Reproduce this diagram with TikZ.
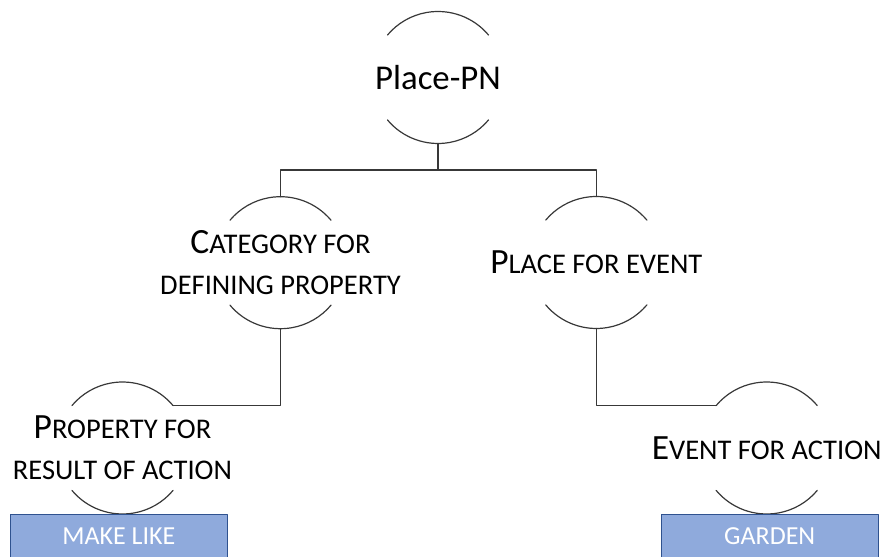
\documentclass[tikz,border=0pt]{standalone}
\usepackage{fontspec}
\setmainfont{Carlito}
\definecolor{boxfill}{HTML}{8FAADC}
\definecolor{boxline}{HTML}{2F528F}
% chu to + chu hoa nho
\newcommand\smc[2]{#1{\fontsize{28.5}{40.6}\selectfont #2}}
\begin{document}
\begin{tikzpicture}[x=1pt,y=1pt,line join=round,line cap=round,
	ring/.style={circle,inner sep=0pt,outer sep=0pt,minimum size=132pt},
	lbl/.style={align=center,inner sep=0pt,font=\fontsize{35.5}{40.6}\selectfont},
	tag/.style={draw=boxline,fill=boxfill,text=white,line width=0.8pt,
		minimum width=217pt,minimum height=45pt,inner sep=0pt,
		font=\fontsize{26}{30}\selectfont},
	link/.style={draw=black!78,line width=1.2pt}]
	\def\rad{66} % ban kinh vong
	\clip (0,0) rectangle (882,556);
	\path
	(438,386) coordinate (fork);
	% cac vong
	\node[ring] (pn) at (438,478.5) {};
	\node[ring] (cat) at (280.5,293.3) {};
	\node[ring] (pe) at (596.3,293.5) {};
	\node[ring] (pr) at (122.5,108) {};
	\node[ring] (ea) at (766.7,108) {};
	\foreach \n in {pn,cat,pe,pr,ea}{
		\draw[link] (\n.40) arc[start angle=40,end angle=140,radius=\rad pt];
		\draw[link] (\n.220) arc[start angle=220,end angle=320,radius=\rad pt];
	}
	% chu
	\node[lbl,font=\fontsize{34.8}{40}\selectfont] (pnt) at (pn) {Place-PN};
	\node[lbl] (catt) at (cat) {\smc{C}{ATEGORY FOR}\\\smc{}{DEFINING PROPERTY}};
	\node[lbl] (pet) at (pe) {\smc{P}{LACE FOR EVENT}};
	\node[lbl] (prt) at (pr) {\smc{P}{ROPERTY FOR}\\\smc{}{RESULT OF ACTION}};
	\node[lbl] (eat) at (ea) {\smc{E}{VENT FOR ACTION}};
	% duong noi
	\draw[link] (pn.south) -- (fork);
	\draw[link] (cat.north) |- (fork) -| (pe.north);
	\draw[link] (cat.south) |- (pr.40);
	\draw[link] (pe.south) |- (ea.140);
	% o mau
	\node[tag] (ml) at (118.8,19.5) {MAKE LIKE};
	\node[tag] (gd) at (769.7,19.5) {GARDEN};
\end{tikzpicture}
\end{document}
